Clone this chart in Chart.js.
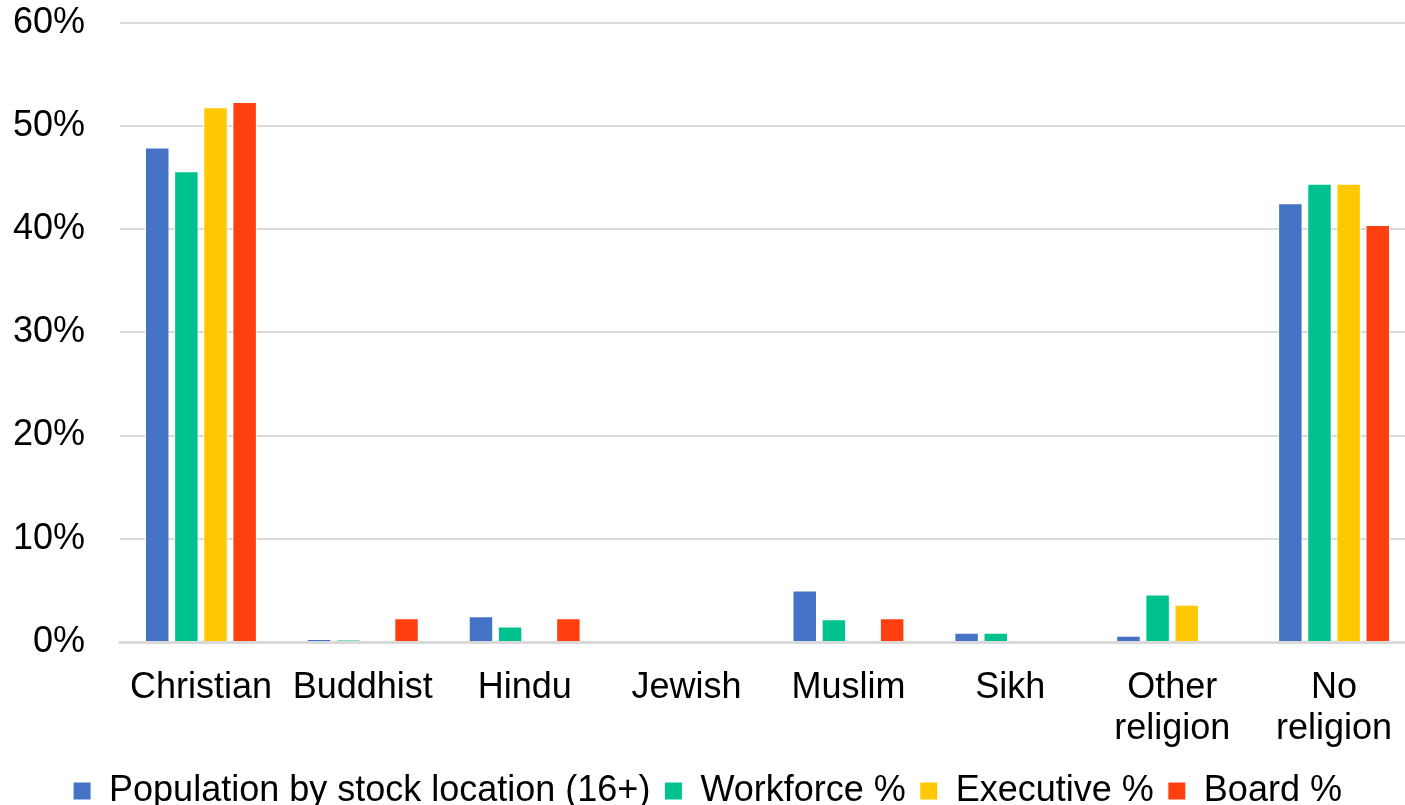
<!DOCTYPE html>
<html>
<head>
    <script src="https://cdn.jsdelivr.net/npm/chart.js@4.4.1/dist/chart.umd.min.js"></script>
    <style>
        html, body { margin: 0; padding: 0; background: #fff; overflow: hidden; }
        #box { width: 1415px; height: 853px; margin-top: -34px; }
    </style>
</head>
<body>
    <div id="box"><canvas id="grafico"></canvas></div>

    <script>
        // categorie e valori (percentuali)
        let categorie = ['Christian', 'Buddhist', 'Hindu', 'Jewish', 'Muslim', 'Sikh', ['Other', 'religion'], ['No', 'religion']];
        let popolazione = [47.9, 0.3, 2.5, 0, 5.0, 0.9, 0.6, 42.5];
        let forzaLavoro = [45.6, 0.2, 1.5, 0, 2.2, 0.9, 4.6, 44.4];
        let esecutivi = [51.8, 0, 0, 0, 0, 0, 3.6, 44.4];
        let consiglio = [52.3, 2.3, 2.3, 0, 2.3, 0, 0, 40.4];
        let nomiSerie = ['Population by stock location (16+)', 'Workforce %', 'Executive %', 'Board %'];
        let colori = ['#4472c4', '#00c28f', '#ffc800', '#ff3f0f'];
        let tickY = [0, 10, 20, 30, 40, 50, 60];

        Chart.defaults.font.family = 'Arial, "Liberation Sans", sans-serif';
        Chart.defaults.color = '#000';

        let serie = [popolazione, forzaLavoro, esecutivi, consiglio];
        let ctx = document.getElementById('grafico').getContext('2d');
        let grafico = new Chart(ctx, {
            type: 'bar',
            data: {
                labels: categorie,
                datasets: serie.map((valori, i) => ({
                    label: nomiSerie[i],
                    data: valori,
                    backgroundColor: colori[i],
                    borderColor: '#ffffff',
                    borderWidth: 1,
                    categoryPercentage: 0.72,
                    barPercentage: 0.84
                }))
            },
            options: {
                animation: false,
                responsive: true,
                maintainAspectRatio: false,
                layout: { padding: 0 },
                plugins: {
                    tooltip: { enabled: false },
                    legend: {
                        position: 'bottom',
                        align: 'center',
                        labels: {
                            boxWidth: 18,
                            boxHeight: 18,
                            padding: 14,
                            font: { size: 36 },
                            color: '#000'
                        }
                    }
                },
                scales: {
                    x: {
                        afterFit: function (scale) { scale.height = 117; },
                        grid: { display: false },
                        border: { display: true, color: '#d9d9d9', width: 3 },
                        ticks: { font: { size: 36, lineHeight: 1.15 }, maxRotation: 0, autoSkip: false, padding: 17 }
                    },
                    y: {
                        min: 0,
                        max: 60,
                        afterFit: function (scale) { scale.width = 120; },
                        afterBuildTicks: function (scale) { scale.ticks = tickY.map(v => ({ value: v })); },
                        border: { display: false },
                        grid: { color: '#d9d9d9', lineWidth: 2, drawTicks: false },
                        ticks: {
                            padding: 35,
                            font: { size: 36 },
                            callback: v => v + '%'
                        }
                    }
                }
            }
        });
    </script>
</body>
</html>
